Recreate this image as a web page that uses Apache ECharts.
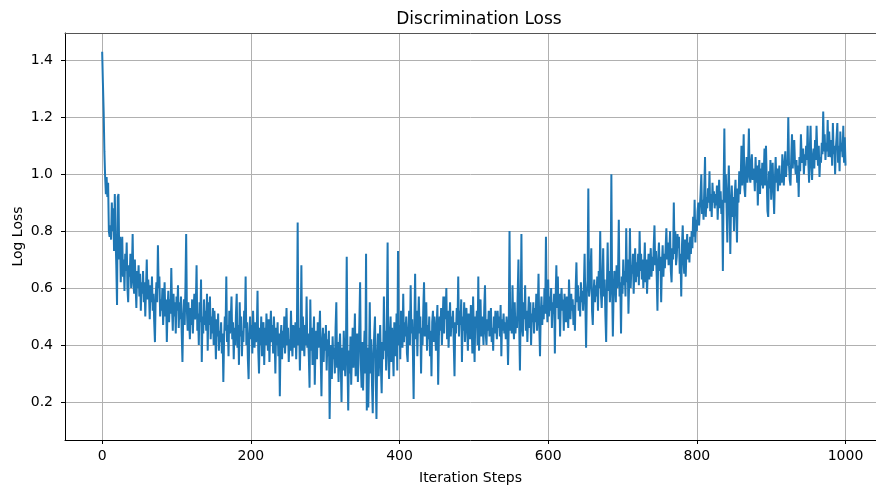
<!DOCTYPE html>
<html>
<head>
<meta charset="utf-8">
<script src="https://cdn.jsdelivr.net/npm/echarts@6/dist/echarts.min.js"></script>
<style>
html,body{margin:0;padding:0;background:#fff;}
#chart{width:876px;height:488px;}
</style>
</head>
<body>
<div id="chart"></div>
<script>
const titleText = "Discrimination Loss";
const xName = "Iteration Steps";
const yName = "Log Loss";
const xTicks = [0, 200, 400, 600, 800, 1000];
const yTicks = [0.2, 0.4, 0.6, 0.8, 1.0, 1.2, 1.4];
// loss value at each iteration step 0..1000
const loss = [
1.43,1.32,1.22,1.08,0.99,0.93,0.99,0.92,0.97,0.80,0.78,0.82,0.77,0.90,0.80,0.88,0.73,0.93,0.78,0.68,
0.54,0.92,0.93,0.70,0.78,0.62,0.74,0.78,0.64,0.70,0.59,0.72,0.66,0.76,0.60,0.55,0.68,0.64,0.72,0.60,
0.66,0.79,0.62,0.58,0.70,0.61,0.53,0.66,0.60,0.68,0.57,0.65,0.52,0.62,0.58,0.66,0.55,0.62,0.50,0.60,
0.70,0.56,0.63,0.58,0.49,0.61,0.55,0.64,0.52,0.58,0.48,0.41,0.57,0.62,0.55,0.75,0.60,0.64,0.50,0.56,
0.52,0.60,0.47,0.55,0.62,0.50,0.56,0.41,0.53,0.59,0.48,0.56,0.51,0.67,0.53,0.45,0.58,0.50,0.55,0.44,
0.57,0.52,0.61,0.46,0.55,0.49,0.57,0.44,0.34,0.50,0.56,0.47,0.60,0.79,0.52,0.45,0.55,0.48,0.42,0.53,
0.47,0.56,0.44,0.52,0.58,0.49,0.54,0.68,0.45,0.51,0.40,0.55,0.48,0.63,0.34,0.50,0.44,0.56,0.47,0.52,
0.45,0.58,0.38,0.55,0.47,0.57,0.42,0.50,0.44,0.53,0.40,0.52,0.46,0.35,0.49,0.43,0.51,0.38,0.45,0.41,
0.48,0.37,0.44,0.27,0.42,0.50,0.45,0.64,0.41,0.47,0.36,0.52,0.44,0.49,0.57,0.42,0.48,0.35,0.46,0.40,
0.51,0.58,0.39,0.47,0.33,0.55,0.43,0.50,0.36,0.45,0.41,0.52,0.46,0.64,0.40,0.48,0.35,0.28,0.44,0.50,
0.42,0.47,0.37,0.52,0.43,0.39,0.48,0.41,0.45,0.59,0.38,0.30,0.46,0.40,0.50,0.36,0.44,0.48,0.33,0.46,
0.40,0.51,0.44,0.38,0.49,0.34,0.45,0.52,0.41,0.47,0.37,0.50,0.43,0.30,0.46,0.40,0.48,0.36,0.44,0.22,
0.42,0.47,0.35,0.45,0.39,0.50,0.37,0.44,0.53,0.40,0.46,0.34,0.42,0.38,0.52,0.41,0.36,0.47,0.43,0.39,
0.48,0.35,0.45,0.83,0.40,0.46,0.31,0.44,0.68,0.38,0.50,0.42,0.36,0.47,0.40,0.57,0.39,0.44,0.36,0.25,
0.56,0.38,0.46,0.33,0.42,0.50,0.26,0.40,0.45,0.35,0.48,0.39,0.43,0.52,0.36,0.22,0.41,0.46,0.34,0.44,
0.38,0.47,0.31,0.42,0.36,0.45,0.14,0.33,0.40,0.28,0.43,0.35,0.39,0.30,0.46,0.55,0.32,0.41,0.27,0.38,
0.44,0.33,0.20,0.39,0.31,0.45,0.36,0.29,0.40,0.71,0.34,0.17,0.38,0.30,0.43,0.26,0.37,0.46,0.32,0.40,
0.51,0.29,0.38,0.44,0.27,0.36,0.48,0.62,0.33,0.25,0.41,0.24,0.37,0.45,0.30,0.72,0.17,0.39,0.18,0.34,
0.55,0.30,0.42,0.26,0.16,0.37,0.44,0.50,0.28,0.14,0.36,0.44,0.29,0.39,0.47,0.32,0.23,0.41,0.35,0.57,
0.38,0.45,0.31,0.49,0.76,0.36,0.28,0.43,0.50,0.34,0.46,0.39,0.29,0.48,0.42,0.36,0.51,0.31,0.73,0.40,
0.47,0.35,0.52,0.44,0.39,0.58,0.41,0.48,0.43,0.50,0.37,0.34,0.46,0.52,0.40,0.61,0.44,0.49,0.38,0.21,
0.47,0.65,0.42,0.52,0.36,0.48,0.57,0.44,0.50,0.30,0.46,0.40,0.53,0.62,0.43,0.49,0.55,0.38,0.47,0.42,
0.50,0.36,0.45,0.29,0.48,0.52,0.41,0.50,0.44,0.38,0.47,0.54,0.26,0.43,0.50,0.45,0.53,0.40,0.48,0.57,
0.44,0.57,0.49,0.60,0.42,0.52,0.39,0.47,0.55,0.43,0.50,0.46,0.52,0.40,0.29,0.48,0.44,0.53,0.47,0.64,
0.43,0.52,0.47,0.56,0.34,0.50,0.45,0.55,0.41,0.49,0.53,0.45,0.38,0.51,0.46,0.42,0.54,0.48,0.37,0.57,
0.44,0.34,0.50,0.46,0.52,0.40,0.64,0.38,0.48,0.56,0.43,0.50,0.46,0.40,0.53,0.61,0.44,0.40,0.49,0.45,
0.52,0.43,0.48,0.53,0.41,0.46,0.38,0.50,0.44,0.52,0.47,0.42,0.52,0.46,0.50,0.43,0.54,0.36,0.49,0.45,
0.51,0.44,0.48,0.42,0.50,0.46,0.33,0.47,0.80,0.45,0.52,0.44,0.61,0.48,0.42,0.55,0.44,0.50,0.46,0.58,
0.70,0.47,0.31,0.52,0.79,0.46,0.43,0.55,0.49,0.61,0.45,0.52,0.41,0.50,0.57,0.46,0.55,0.40,0.51,0.48,
0.55,0.44,0.53,0.48,0.58,0.45,0.52,0.65,0.47,0.36,0.51,0.57,0.47,0.54,0.49,0.60,0.51,0.78,0.55,0.48,
0.63,0.50,0.57,0.52,0.60,0.46,0.55,0.51,0.58,0.37,0.56,0.68,0.53,0.64,0.49,0.58,0.43,0.55,0.60,0.52,
0.56,0.45,0.58,0.51,0.48,0.57,0.52,0.46,0.63,0.55,0.49,0.58,0.52,0.56,0.47,0.54,0.45,0.60,0.69,0.55,
0.61,0.52,0.57,0.50,0.62,0.55,0.59,0.52,0.60,0.72,0.55,0.39,0.58,0.63,0.95,0.57,0.60,0.66,0.74,0.52,
0.47,0.58,0.63,0.55,0.61,0.57,0.64,0.52,0.66,0.60,0.80,0.58,0.53,0.62,0.74,0.57,0.63,0.50,0.41,0.60,
0.76,0.59,0.66,0.55,0.62,1.00,0.60,0.43,0.58,0.66,0.63,0.55,0.68,0.60,0.65,0.84,0.57,0.62,0.44,0.64,
0.58,0.70,0.61,0.66,0.57,0.81,0.62,0.70,0.51,0.63,0.81,0.60,0.68,0.65,0.72,0.58,0.67,0.74,0.62,0.69,
0.64,0.72,0.61,0.80,0.66,0.72,0.63,0.70,0.60,0.67,0.76,0.62,0.70,0.58,0.66,0.72,0.63,0.69,0.74,0.64,
0.71,0.66,0.75,0.82,0.68,0.73,0.64,0.52,0.70,0.76,0.66,0.71,0.55,0.68,0.75,0.64,0.72,0.67,0.74,0.81,
0.70,0.76,0.68,0.73,0.80,0.66,0.62,0.74,0.70,0.90,0.72,0.80,0.68,0.71,0.79,0.74,0.78,0.65,0.72,0.57,
0.75,0.82,0.70,0.65,0.77,0.64,0.73,0.79,0.70,0.76,0.69,0.78,0.72,0.80,0.74,0.85,0.78,0.91,0.76,0.84,
0.80,0.87,0.90,0.82,0.88,0.93,1.00,0.86,0.91,0.84,0.95,1.06,0.85,0.92,0.88,0.95,0.90,1.01,0.87,0.93,
0.85,0.97,0.90,0.94,0.88,0.93,0.89,0.96,0.84,0.92,0.98,0.88,0.94,0.86,0.91,0.66,0.95,1.16,0.90,1.00,
0.88,0.76,0.94,1.03,0.90,0.72,0.89,0.96,0.85,0.92,0.80,0.93,0.98,0.87,0.76,0.95,0.90,1.01,0.93,0.98,
1.10,0.96,1.02,1.14,0.95,0.92,1.01,1.06,0.97,1.04,1.16,0.99,0.97,1.04,1.07,0.98,1.02,1.00,0.94,1.06,
0.97,1.03,0.89,0.99,1.05,0.93,1.02,0.96,1.04,0.95,1.00,1.09,0.96,1.10,0.98,0.87,0.85,1.01,0.95,1.05,
0.91,0.99,1.04,0.94,0.86,0.98,1.06,0.97,1.02,0.94,0.99,1.03,0.96,1.00,0.97,1.07,1.01,0.96,1.04,1.08,
0.99,1.05,1.03,1.20,1.03,0.98,0.96,1.06,1.14,1.02,1.08,1.12,1.04,1.00,1.05,0.97,1.03,0.92,1.06,1.01,
1.14,1.06,1.04,1.09,1.00,1.07,1.03,1.10,1.05,1.17,1.04,0.97,1.09,1.17,1.03,0.98,1.06,1.09,1.02,1.12,
1.05,1.17,1.08,1.03,1.10,0.99,1.06,1.04,1.11,1.07,1.22,1.08,1.14,1.05,1.11,1.08,1.19,1.06,1.15,1.09,
1.06,1.12,1.03,1.18,1.07,1.10,1.00,1.09,1.13,1.18,1.04,1.10,1.01,1.15,1.08,1.11,1.06,1.17,1.04,1.13,
1.03
];

const xMin = -50, xMax = 1041;
const yMin = 0.066, yMax = 1.496;
const font = "'DejaVu Sans', 'Liberation Sans', sans-serif";

const chart = echarts.init(document.getElementById('chart'), null, {renderer: 'canvas'});
chart.setOption({
  animation: false,
  backgroundColor: '#ffffff',
  title: {
    text: titleText,
    left: 474, top: 6,
    textAlign: 'center',
    textStyle: {fontFamily: font, fontSize: 17, fontWeight: 'normal', color: '#000'}
  },
  grid: {left: 65, top: 33, bottom: 48, right: 0, containLabel: false, outerBoundsMode: 'none'},
  xAxis: [{
    type: 'value', min: xMin, max: xMax,
    name: xName, nameLocation: 'middle', nameGap: 31, nameMoveOverlap: false,
    nameTextStyle: {fontFamily: font, fontSize: 14, color: '#000'},
    axisLine: {show: true, onZero: false, lineStyle: {color: '#000', width: 1}},
    axisTick: {show: true, length: 4, customValues: xTicks, lineStyle: {color: '#000'}},
    axisLabel: {customValues: xTicks, margin: 9, fontFamily: font, fontSize: 14, color: '#000',
      formatter: v => String(v)},
    splitLine: {show: true, lineStyle: {color: '#b0b0b0', width: 1}}
  }, {
    type: 'value', min: xMin, max: xMax, position: 'top',
    axisLine: {show: true, onZero: false, lineStyle: {color: '#555', width: 1}},
    axisTick: {show: false}, axisLabel: {show: false}, splitLine: {show: false}
  }],
  yAxis: {
    type: 'value', min: yMin, max: yMax, splitNumber: 7,
    name: yName, nameLocation: 'middle', nameGap: 40, nameMoveOverlap: false,
    nameTextStyle: {fontFamily: font, fontSize: 14, color: '#000'},
    axisLine: {show: true, onZero: false, lineStyle: {color: '#000', width: 1}},
    axisTick: {show: true, length: 4, customValues: yTicks, lineStyle: {color: '#000'}},
    axisLabel: {customValues: yTicks, margin: 12, fontFamily: font, fontSize: 14, color: '#000',
      formatter: v => v.toFixed(1)},
    splitLine: {show: true, lineStyle: {color: '#b0b0b0', width: 1}}
  },
  series: [{
    type: 'line',
    data: loss.map((v, i) => [i, v]),
    showSymbol: false, symbol: 'none',
    lineStyle: {color: '#1f77b4', width: 2},
    itemStyle: {color: '#1f77b4'},
    clip: true
  }]
});
</script>
</body>
</html>
